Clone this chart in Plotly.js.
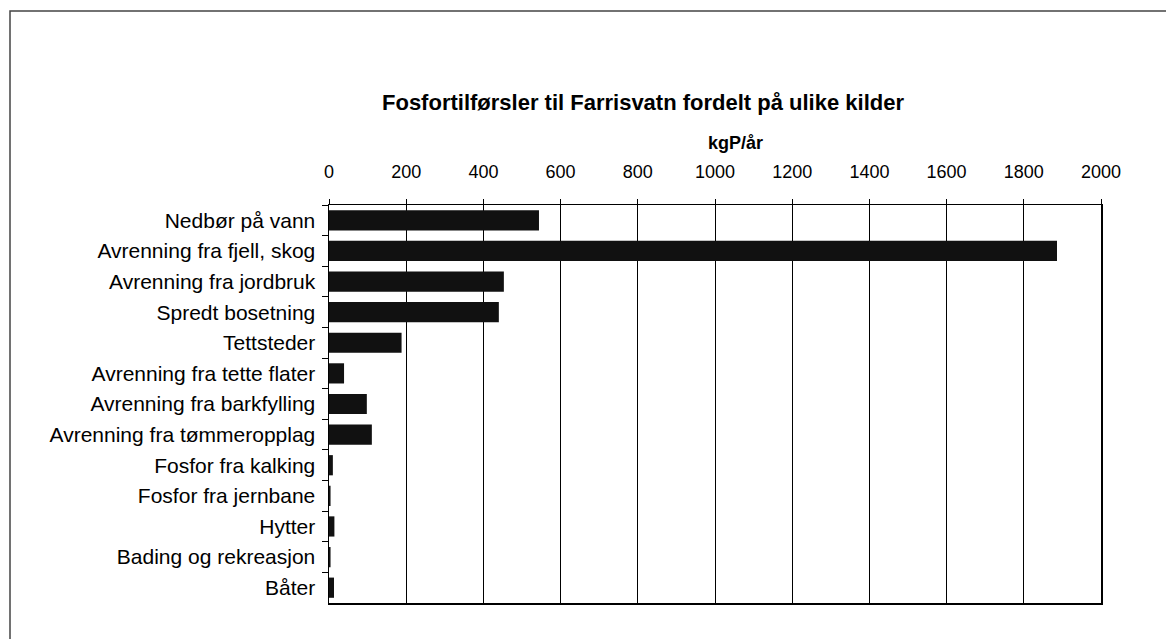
<!DOCTYPE html>
<html>
<head>
<meta charset="utf-8">
<script src="https://cdn.plot.ly/plotly-3.0.1.min.js"></script>
<style>
html,body{margin:0;padding:0;background:#fff;}
#chart{width:1166px;height:639px;}
</style>
</head>
<body>
<div id="chart"></div>
<script>
const categories = [
  "Nedbør på vann",
  "Avrenning fra fjell, skog",
  "Avrenning fra jordbruk",
  "Spredt bosetning",
  "Tettsteder",
  "Avrenning fra tette flater",
  "Avrenning fra barkfylling",
  "Avrenning fra tømmeropplag",
  "Fosfor fra kalking",
  "Fosfor fra jernbane",
  "Hytter",
  "Bading og rekreasjon",
  "Båter"
];
const values = [544, 1886, 453, 440, 188, 39, 98, 111, 10, 4, 14, 4, 13];
const tickVals = [0, 200, 400, 600, 800, 1000, 1200, 1400, 1600, 1800, 2000];
const titleText = "Fosfortilførsler til Farrisvatn fordelt på ulike kilder";
const unitText = "kgP/år";

const W = 1166, H = 639;
const L = 329, R = 1101, T = 205, B = 603;
const px = x => (x - L) / (R - L);
const py = y => (B - y) / (B - T);

const trace = {
  type: 'bar',
  orientation: 'h',
  x: values,
  y: categories,
  marker: {color: '#111111', line: {width: 0}},
  hoverinfo: 'x+y'
};

const layout = {
  width: W, height: H,
  margin: {l: L, r: W - R, t: T, b: H - B, pad: 0},
  paper_bgcolor: '#ffffff',
  plot_bgcolor: '#ffffff',
  showlegend: false,
  bargap: 0.34,
  font: {family: 'Liberation Sans, Arial, sans-serif', color: '#000'},
  xaxis: {
    side: 'top',
    range: [0, 2000],
    tickvals: tickVals,
    ticktext: tickVals.map(String),
    tickfont: {size: 18, color: '#000'},
    ticks: 'outside', ticklen: 5, tickcolor: '#000', tickwidth: 1,
    ticklabelstandoff: 13,
    showgrid: true, gridcolor: '#000', gridwidth: 1,
    showline: true, linecolor: '#000', linewidth: 1.5, mirror: true,
    zeroline: false,
    fixedrange: true
  },
  yaxis: {
    type: 'category',
    autorange: 'reversed',
    tickfont: {size: 21, color: '#000'},
    ticks: 'outside', ticklen: 6, tickcolor: '#000', tickwidth: 1,
    tickson: 'boundaries',
    ticklabelstandoff: 8,
    showline: true, linecolor: '#000', linewidth: 1.5, mirror: true,
    showgrid: false, zeroline: false,
    fixedrange: true
  },
  annotations: [
    {text: '<b>' + titleText + '</b>', xref: 'paper', yref: 'paper',
     x: px(643), y: py(103), xanchor: 'center', yanchor: 'middle',
     showarrow: false, font: {size: 22, color: '#000'}},
    {text: '<b>' + unitText + '</b>', xref: 'paper', yref: 'paper',
     x: px(735), y: py(143), xanchor: 'center', yanchor: 'middle',
     showarrow: false, font: {size: 18, color: '#000'}}
  ],
  shapes: [
    {type: 'rect', xref: 'paper', yref: 'paper',
     x0: px(10), x1: px(1200), y0: py(680), y1: py(11),
     line: {color: '#444', width: 1.5}, fillcolor: 'rgba(0,0,0,0)', layer: 'above'}
  ]
};

Plotly.newPlot('chart', [trace], layout, {displayModeBar: false, staticPlot: true});
</script>
</body>
</html>
